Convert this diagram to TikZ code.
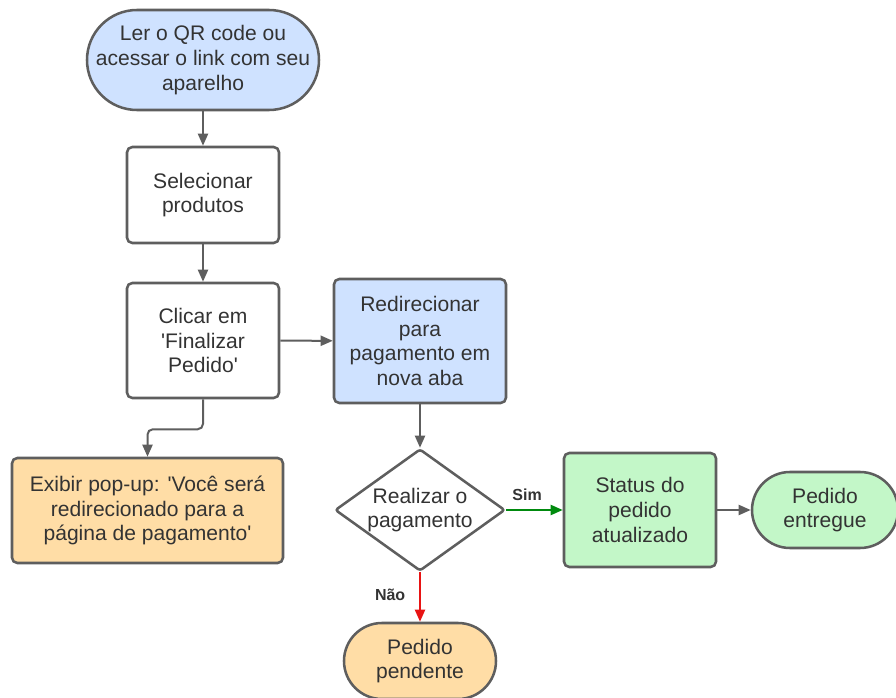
\documentclass[tikz,border=0pt]{standalone}
\usepackage{fontspec}
\setmainfont{Liberation Sans}
\usetikzlibrary{shapes.geometric}
\usetikzlibrary{arrows.meta}

\definecolor{borda}{HTML}{5E5E5E}
\definecolor{texto}{HTML}{333333}
\definecolor{azul}{HTML}{CFE2FF}
\definecolor{laranja}{HTML}{FFDDA6}
\definecolor{verde}{HTML}{C3F7C8}
\definecolor{verdeseta}{HTML}{008A0E}
\definecolor{vermelho}{HTML}{E81313}

\tikzset{
    caixa/.style={draw=borda, line width=1.9pt, rounded corners=4pt, fill=white,
            align=center, text=texto, inner sep=0pt,
            font=\fontsize{15.8}{18.6}\selectfont},
    terminal/.style={caixa, rounded corners=#1},
    decisao/.style={caixa, diamond, rounded corners=2pt},
    seta/.style={draw=borda, line width=1.5pt, -{Triangle[length=9pt,width=7.5pt]}},
    rotulo/.style={text=texto, font=\bfseries\fontsize{12}{14}\selectfont}
}

\begin{document}
\begin{tikzpicture}[x=0.75pt, y=-0.75pt]
        \useasboundingbox (0,0) rectangle (896,698);
        % coluna da esquerda
        \node[terminal=37.5pt, fill=azul, minimum width=174pt, minimum height=75pt] (ler) at (203,60)
            {Ler o QR code ou\\acessar o link com seu\\aparelho};
        \node[caixa, minimum width=114pt, minimum height=72pt] (selecionar) at (203,195)
            {Selecionar\\produtos};
        \node[caixa, minimum width=114pt, minimum height=86.25pt] (clicar) at (203,340.5)
            {Clicar em\\\textquotesingle Finalizar\\Pedido\textquotesingle};
        \node[caixa, fill=laranja, minimum width=203.25pt, minimum height=78.75pt] (popup) at (147.5,510.5)
            {Exibir pop-up: \textquotesingle Você será\\redirecionado para a\\página de pagamento\textquotesingle};
        % coluna do meio
        \node[caixa, fill=azul, minimum width=129pt, minimum height=93pt] (redirecionar) at (420,341)
            {Redirecionar\\para\\pagamento em\\nova aba};
        \node[decisao, minimum width=127.5pt, minimum height=91.5pt, inner sep=-8pt] (pagamento) at (420,510)
            {Realizar o\\pagamento};
        \node[terminal=28.5pt, fill=laranja, minimum width=114pt, minimum height=57pt] (pendente) at (420,661)
            {Pedido\\pendente};
        % lado direito
        \node[caixa, fill=verde, minimum width=114pt, minimum height=85.5pt] (status) at (640,510)
            {Status do\\pedido\\atualizado};
        \node[terminal=28.5pt, fill=verde, minimum width=109.5pt, minimum height=57pt] (entregue) at (825,510)
            {Pedido\\entregue};

        % setas
        \draw[seta] (ler) -- (selecionar);
        \draw[seta] (selecionar) -- (clicar);
        \draw[seta] (clicar) -- (redirecionar);
        \draw[seta, rounded corners=4pt] (clicar.south) -- ++(0,30) -| (popup.north);
        \draw[seta] (redirecionar) -- (pagamento);
        \draw[seta, draw=verdeseta, fill=verdeseta] (pagamento.east) -- (status.west)
            node[rotulo, pos=0.37, above=3pt] (sim) {Sim};
        \draw[seta, draw=vermelho, fill=vermelho] (pagamento.south) -- (pendente.north)
            node[rotulo, pos=0.45, left=7pt] (nao) {Não};
        \draw[seta] (status) -- (entregue);
    \end{tikzpicture}
\end{document}
